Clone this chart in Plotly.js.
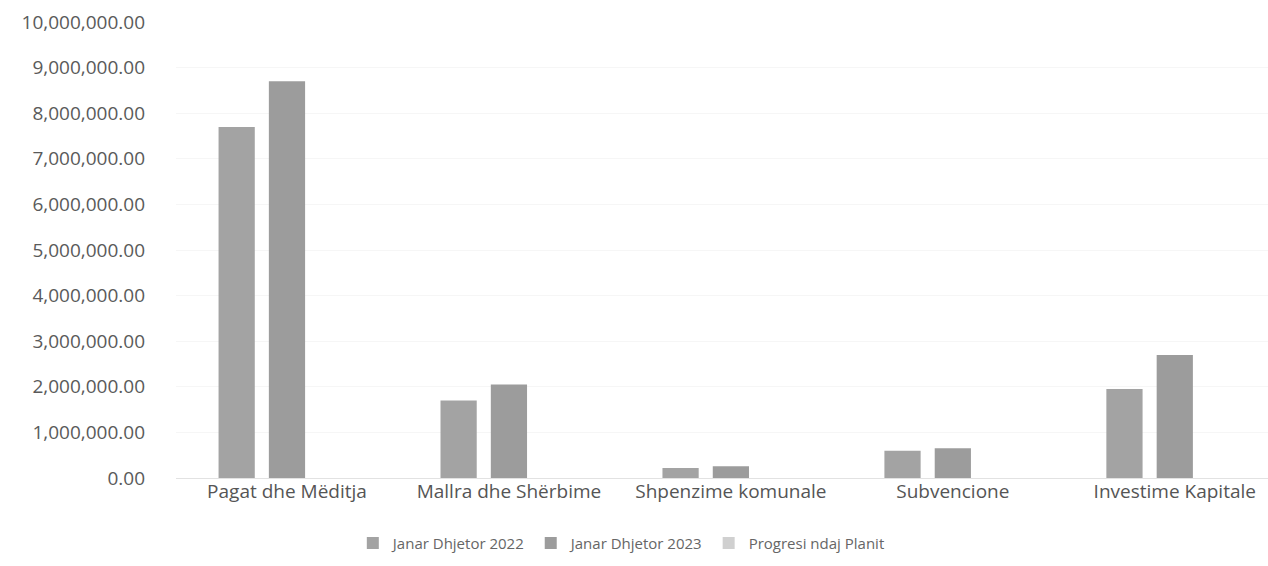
<!DOCTYPE html>
<html>
<head>
<meta charset="utf-8">
<script src="https://cdn.plot.ly/plotly-3.0.1.min.js"></script>
<style>html,body{margin:0;padding:0;background:#fff;}#chart{width:1268px;height:566px;}</style>
</head>
<body>
<div id="chart"></div>
<script>
var categories = ["Pagat dhe Mëditja", "Mallra dhe Shërbime", "Shpenzime komunale", "Subvencione", "Investime Kapitale"];
var seriesNames = ["Janar Dhjetor 2022", "Janar Dhjetor 2023", "Progresi ndaj Planit"];
var values2022 = [7700000, 1700000, 220000, 600000, 1950000];
var values2023 = [8700000, 2050000, 260000, 650000, 2700000];
var valuesProgres = [0.95, 0.9, 0.85, 0.9, 0.8];
var tickValues = [0, 1000000, 2000000, 3000000, 4000000, 5000000, 6000000, 7000000, 8000000, 9000000, 10000000];

var font = "Open Sans, Liberation Sans, sans-serif";
var traces = [
  {type: "bar", name: seriesNames[0], x: categories, y: values2022, marker: {color: "#a3a3a3"}},
  {type: "bar", name: seriesNames[1], x: categories, y: values2023, marker: {color: "#9c9c9c"}},
  {type: "bar", name: seriesNames[2], x: categories, y: valuesProgres, marker: {color: "#d0d0d0"}}
];
var layout = {
  width: 1268, height: 566,
  margin: {l: 176, r: 0, t: 22, b: 88},
  paper_bgcolor: "#ffffff", plot_bgcolor: "#ffffff",
  barmode: "group", bargap: 0.32, bargroupgap: 0.28,
  font: {family: font, color: "#5a5a5a"},
  xaxis: {
    type: "category", range: [-0.5, 4.42],
    showgrid: false, showline: false, ticks: "",
    tickfont: {size: 19, color: "#555555"}
  },
  yaxis: {
    range: [0, 10000000], tickvals: tickValues, tickformat: ",.2f",
    showgrid: true, gridcolor: "#f6f6f6", gridwidth: 1,
    zeroline: true, zerolinecolor: "#e2e2e2", zerolinewidth: 1,
    showline: false, ticks: "", ticklabelstandoff: 30,
    tickfont: {size: 19, color: "#5a5a5a"}
  },
  legend: {
    orientation: "h", xref: "container", yref: "container",
    x: 0.49, xanchor: "center", y: 0.04, yanchor: "middle",
    font: {size: 15, color: "#666666"}, itemwidth: 30, tracegroupgap: 0
  },
  showlegend: true
};
Plotly.newPlot("chart", traces, layout, {displayModeBar: false, staticPlot: true});
</script>
</body>
</html>
